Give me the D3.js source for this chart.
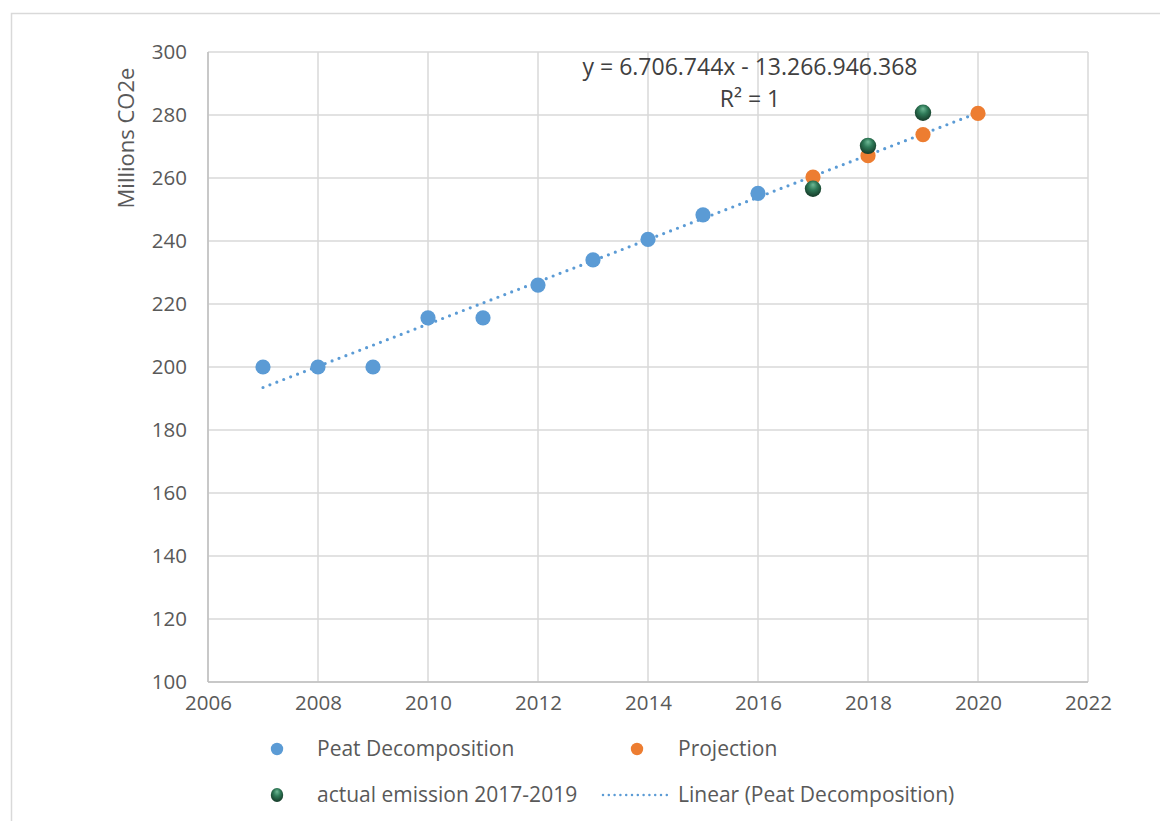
<!DOCTYPE html>
<html>
<head>
<meta charset="utf-8">
<script src="https://cdn.jsdelivr.net/npm/d3@7"></script>
<style>
  html, body { margin: 0; padding: 0; background: #fff; }
  svg { display: block; font-family: "Open Sans", "Noto Sans", sans-serif; }
</style>
</head>
<body>
<svg id="chart" width="1160" height="821"></svg>
<script>
// ---- data ----
const peatYears = [2007, 2008, 2009, 2010, 2011, 2012, 2013, 2014, 2015, 2016];
const peatValues = [200, 200, 200, 215.6, 215.6, 226, 234, 240.5, 248.3, 255.1];
const projYears = [2017, 2018, 2019, 2020];
const projValues = [260.3, 267.1, 273.8, 280.5];
const actualYears = [2017, 2018, 2019];
const actualValues = [256.6, 270.2, 280.7];
const trendYears = [2007, 2020];
const trendValues = [193.5, 280.7];
const xTicks = [2006, 2008, 2010, 2012, 2014, 2016, 2018, 2020, 2022];
const yTicks = [100, 120, 140, 160, 180, 200, 220, 240, 260, 280, 300];
const equationText = "y = 6.706.744x - 13.266.946.368";
const r2Text = "R² = 1";
const yTitle = "Millions CO2e";
const legendLabels = ["Peat Decomposition", "Projection", "actual emission 2017-2019", "Linear (Peat Decomposition)"];

const svg = d3.select("#chart");
const textColor = "#595959";
const blue = "#5b9bd5", orange = "#ed7d31";

// outer chart border
svg.append("rect").attr("x", 11.5).attr("y", 13.5).attr("width", 1200).attr("height", 900)
  .attr("fill", "#fff").attr("stroke", "#d9d9d9").attr("stroke-width", 1.5);

const x = d3.scaleLinear().domain([2006, 2022]).range([208, 1088]);
const y = d3.scaleLinear().domain([100, 300]).range([682, 52]);

// gradient for green spheres
const defs = svg.append("defs");
const grad = defs.append("radialGradient").attr("id", "sphere")
  .attr("cx", "50%").attr("cy", "40%").attr("r", "60%").attr("fx", "50%").attr("fy", "25%");
grad.append("stop").attr("offset", "0%").attr("stop-color", "#6fb996");
grad.append("stop").attr("offset", "45%").attr("stop-color", "#2f7a58");
grad.append("stop").attr("offset", "100%").attr("stop-color", "#153a28");

// gridlines
const grid = svg.append("g");
grid.selectAll("line.h").data(yTicks).enter().append("line")
  .attr("x1", x(2006)).attr("x2", x(2022))
  .attr("y1", d => y(d)).attr("y2", d => y(d))
  .attr("stroke", "#d9d9d9").attr("stroke-width", 1.5);
grid.selectAll("line.v").data(xTicks).enter().append("line")
  .attr("y1", y(100)).attr("y2", y(300))
  .attr("x1", d => x(d)).attr("x2", d => x(d))
  .attr("stroke", "#d9d9d9").attr("stroke-width", 1.5);
// axis lines
svg.append("line").attr("x1", x(2006)).attr("x2", x(2006)).attr("y1", y(100)).attr("y2", y(300))
  .attr("stroke", "#bfbfbf").attr("stroke-width", 1.5);
svg.append("line").attr("x1", x(2006)).attr("x2", x(2022)).attr("y1", y(100)).attr("y2", y(100))
  .attr("stroke", "#bfbfbf").attr("stroke-width", 1.5);

// axes via d3 (labels only)
const yAxis = svg.append("g").attr("transform", `translate(${x(2006)},0)`)
  .call(d3.axisLeft(y).tickValues(yTicks).tickSize(0).tickPadding(21).tickFormat(d3.format("d")));
const xAxis = svg.append("g").attr("transform", `translate(0,${y(100)})`)
  .call(d3.axisBottom(x).tickValues(xTicks).tickSize(0).tickPadding(13).tickFormat(d3.format("d")));
[yAxis, xAxis].forEach(a => {
  a.select(".domain").remove();
  a.selectAll("text").attr("fill", textColor).style("font-size", "20.5px")
    .style("font-family", "'Open Sans', sans-serif");
});

// y title
svg.append("text").attr("transform", "translate(134,138) rotate(-90)")
  .attr("text-anchor", "middle").attr("fill", textColor).style("font-size", "22px").text(yTitle);

// trendline
const line = d3.line().x(d => x(d[0])).y(d => y(d[1]));
svg.append("path").datum(trendYears.map((t, i) => [t, trendValues[i]]))
  .attr("d", line).attr("fill", "none").attr("stroke", blue).attr("stroke-width", 3.2)
  .attr("stroke-linecap", "round").attr("stroke-dasharray", "0 7.4");

// points
svg.append("g").selectAll("circle").data(peatYears).enter().append("circle")
  .attr("cx", d => x(d)).attr("cy", (d, i) => y(peatValues[i])).attr("r", 7.6).attr("fill", blue);
svg.append("g").selectAll("circle").data(projYears).enter().append("circle")
  .attr("cx", d => x(d)).attr("cy", (d, i) => y(projValues[i])).attr("r", 7.6).attr("fill", orange);
svg.append("g").selectAll("circle").data(actualYears).enter().append("circle")
  .attr("cx", d => x(d)).attr("cy", (d, i) => y(actualValues[i])).attr("r", 8.2).attr("fill", "url(#sphere)");

// equation
svg.append("text").attr("x", 750).attr("y", 75).attr("text-anchor", "middle")
  .attr("fill", "#404040").style("font-size", "23px").text(equationText);
svg.append("text").attr("x", 750).attr("y", 107).attr("text-anchor", "middle")
  .attr("fill", "#404040").style("font-size", "23px").text(r2Text);

// legend
const leg = svg.append("g").style("font-size", "21px").attr("fill", textColor);
const legItems = [
  {type: "dot", color: blue, mx: 277, my: 749, tx: 317},
  {type: "dot", color: orange, mx: 637, my: 749, tx: 678},
  {type: "sphere", mx: 277, my: 795, tx: 317},
  {type: "line", mx: 635, my: 795, tx: 678}
];
legItems.forEach((it, i) => {
  if (it.type === "dot") {
    leg.append("circle").attr("cx", it.mx).attr("cy", it.my).attr("r", 6.2).attr("fill", it.color);
  } else if (it.type === "sphere") {
    leg.append("ellipse").attr("cx", it.mx).attr("cy", it.my).attr("rx", 6.2).attr("ry", 7).attr("fill", "url(#sphere)");
  } else {
    leg.append("line").attr("x1", 603).attr("x2", 667).attr("y1", it.my).attr("y2", it.my)
      .attr("stroke", blue).attr("stroke-width", 2.5).attr("stroke-linecap", "round")
      .attr("stroke-dasharray", "0 5.8");
  }
  leg.append("text").attr("x", it.tx).attr("y", it.my + 7).text(legendLabels[i]);
});
</script>
</body>
</html>
